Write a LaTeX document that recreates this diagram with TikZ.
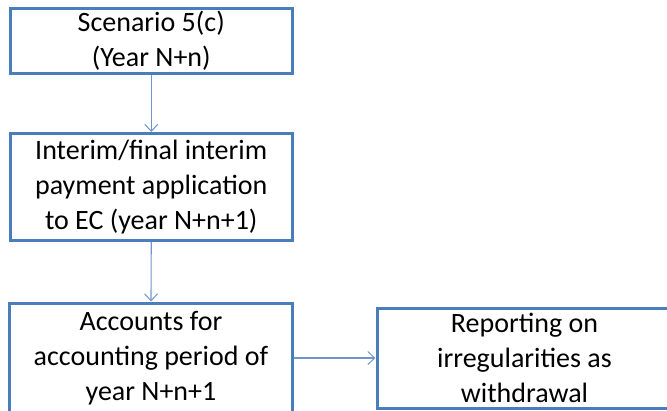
\documentclass[tikz,border=0pt]{standalone}
\usepackage{fontspec}
\setmainfont{Carlito}
\usetikzlibrary{arrows.meta}
\definecolor{boxblue}{RGB}{74,126,187}
\definecolor{linkblue}{RGB}{110,150,205}
\tikzset{
  flowbox/.style={draw=boxblue, line width=3pt, fill=white, align=center,
    inner sep=0pt, font=\fontsize{28}{35}\selectfont, text=black},
  link/.style={draw=linkblue, line width=1.1pt, -{Straight Barb[length=7pt,width=13pt,line width=1pt]}}
}
\begin{document}
\begin{tikzpicture}[x=1pt,y=-1pt]
\useasboundingbox (0,0) rectangle (667,410);
\clip (0,0) rectangle (667,410);
\node[flowbox, minimum width=282.5pt, minimum height=65pt] (b1) at (151.25,41) {Scenario 5(c)\\(Year N+n)};
\node[flowbox, minimum width=282.5pt, minimum height=107pt] (b2) at (151.25,187) {Interim/final interim\\payment application\\to EC (year N+n+1)};
\node[flowbox, minimum width=283pt, minimum height=110pt] (b3) at (151,358) {Accounts for\\accounting period of\\year N+n+1};
\node[flowbox, minimum width=295pt, minimum height=100pt] (b4) at (524.5,358) {Reporting on\\irregularities as\\withdrawal};
\draw[link] (b1.south) -- (b2.north);
\draw[link] (b2.south) -- (b3.north);
\draw[link] (b3.east) -- (b4.west);
\end{tikzpicture}
\end{document}
